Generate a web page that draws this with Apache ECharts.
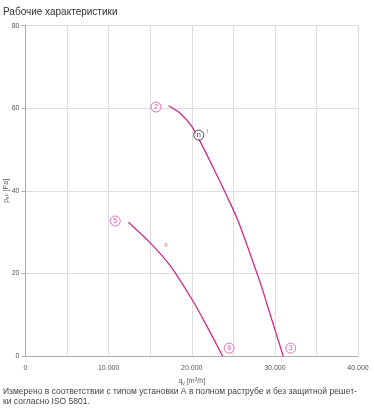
<!DOCTYPE html>
<html><head><meta charset="utf-8">
<script src="https://cdn.jsdelivr.net/npm/echarts@6/dist/echarts.min.js"></script>
<style>html,body{margin:0;padding:0;background:#fff}#c{width:374px;height:409px}</style>
</head><body><div id="c"></div>
<script>
// Curve I (flow m3/h, pressure Pa)
const curveIx = [17200, 18600, 20000, 21400, 23000, 24000, 25600, 27400, 28400, 29400, 31000];
const curveIy = [60.6, 58.8, 55.6, 50.4, 43.9, 39.7, 32.6, 22.6, 16.8, 10.3, 0];
// Curve II
const curveIIx = [12380, 15000, 17400, 20000, 21800, 23700];
const curveIIy = [32.4, 27.4, 21.9, 13.8, 7.3, 0];
// circled point markers
const markerLabels = ['2', '3', '5', '6'];
const markerX = [15700, 31900, 10800, 24500];
const markerY = [60.3, 1.9, 32.7, 1.9];
// operating point
const opLabel = 'n';
const opX = 20840, opY = 53.5;
// curve names
const curveNames = ['I', 'II'];
const curveNameX = [21900, 16900];
const curveNameY = [54.3, 26.9];
const xTicks = [0, 10000, 20000, 30000, 40000];
const yTicks = [0, 20, 40, 60, 80];

const MAG = '#cf2a8a';
const chart = echarts.init(document.getElementById('c'));
const zip = (xs, ys) => xs.map((x, i) => [x, ys[i]]);
chart.setOption({
  animation: false,
  title: { text: 'Рабочие характеристики', left: 3, top: 7, padding: 0,
    textStyle: { fontFamily: 'Liberation Sans', fontSize: 10, fontWeight: 'normal', color: '#333' } },
  grid: { left: 25.5, right: 16, top: 25.7, bottom: 53, containLabel: false, outerBoundsMode: 'none' },
  xAxis: { type: 'value', min: 0, max: 40000, interval: 5000,
    axisLine: { lineStyle: { color: '#aaa' } },
    axisTick: { show: false },
    splitLine: { lineStyle: { color: '#ddd' } },
    axisLabel: { color: '#555', fontSize: 7, fontFamily: 'Liberation Sans', margin: 9,
      formatter: v => xTicks.includes(v) ? (v === 0 ? '0' : (v / 1000) + '.000') : '' },
    name: '{a|q}{s|v}{a| [m}{t|3}{a|/h]}', nameLocation: 'middle', nameGap: 21, nameMoveOverlap: false,
    nameTextStyle: { rich: { a: { fontSize: 7, color: '#555', fontFamily: 'Liberation Sans' },
      s: { fontSize: 5, color: '#555', verticalAlign: 'bottom', padding: [4, 0, 0, 0] },
      t: { fontSize: 5, color: '#555', padding: [0, 0, 4, 0] } } } },
  yAxis: { type: 'value', min: 0, max: 80, interval: 10,
    axisLine: { show: true, lineStyle: { color: '#aaa' } },
    axisTick: { show: true, length: 4, lineStyle: { color: '#aaa' }, customValues: yTicks },
    splitLine: { lineStyle: { color: '#ddd' } },
    axisLabel: { color: '#555', fontSize: 7, fontFamily: 'Liberation Sans', margin: 6,
      formatter: v => yTicks.includes(v) ? String(v) : '' },
    name: '{a|p}{s|sF}{a| [Pa]}', nameLocation: 'middle', nameGap: 15, nameRotate: 90, nameMoveOverlap: false,
    nameTextStyle: { rich: { a: { fontSize: 7, color: '#555', fontFamily: 'Liberation Sans' },
      s: { fontSize: 5, color: '#555', padding: [4, 0, 0, 0] } } } },
  series: [
    { type: 'line', data: zip(curveIx, curveIy), smooth: 0.3, symbol: 'none',
      lineStyle: { color: MAG, width: 1.3 }, z: 3 },
    { type: 'line', data: zip(curveIIx, curveIIy), smooth: 0.3, symbol: 'none',
      lineStyle: { color: MAG, width: 1.3 }, z: 3 },
    { type: 'scatter', data: markerLabels.map((l, i) => [markerX[i], markerY[i], l]),
      symbolSize: 10, itemStyle: { color: '#fff', borderColor: MAG, borderWidth: 0.8 },
      label: { show: true, position: 'inside', formatter: p => p.value[2], color: MAG, fontSize: 7,
        fontFamily: 'Liberation Sans' }, z: 5 },
    { type: 'scatter', data: [[opX, opY, opLabel]], symbolSize: 10,
      itemStyle: { color: '#fff', borderColor: '#222', borderWidth: 1 },
      label: { show: true, position: 'inside', formatter: p => p.value[2], color: '#222', fontSize: 8,
        fontFamily: 'Liberation Sans' }, z: 6 },
    { type: 'scatter', data: curveNames.map((l, i) => [curveNameX[i], curveNameY[i], l]), symbolSize: 0,
      label: { show: true, position: 'inside', formatter: p => p.value[2], color: MAG, fontSize: 6,
        fontFamily: 'Liberation Sans' }, z: 6 }
  ],
  graphic: [
    { type: 'text', left: 3, top: 387, style: {
      text: 'Измерено в соответствии с типом установки A в полном раструбе и без защитной решет-\nки согласно ISO 5801.',
      fill: '#444', font: '8.5px "Liberation Sans"', lineHeight: 10 } }
  ]
});
</script></body></html>
